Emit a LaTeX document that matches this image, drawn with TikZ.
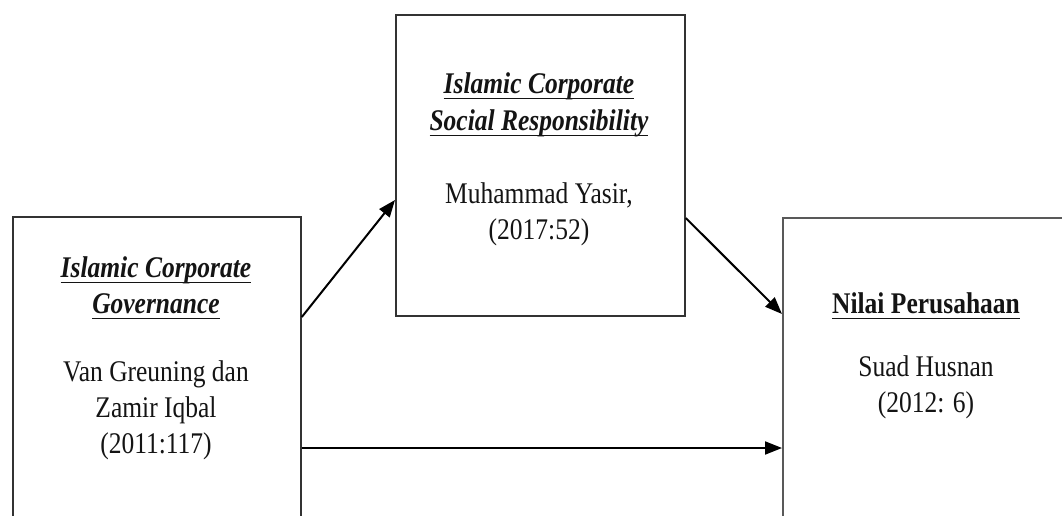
\documentclass[tikz,border=0pt]{standalone}
\usepackage{fontspec}
\setmainfont{Liberation Serif}[FakeStretch=0.85]
\usetikzlibrary{arrows.meta}
\newcommand\myul[1]{\leavevmode\vtop{\hbox{\raisebox{0pt}[\height][0pt]{#1}}\kern4.5pt\hrule height 1.8pt}}
\begin{document}
\begin{tikzpicture}[x=1pt,y=-1pt,
  box/.style={draw=black!80,line width=1.8pt,rectangle,inner sep=0pt,anchor=north west},
  txt/.style={inner sep=0pt,text=black!92,font=\fontsize{30}{36}\selectfont,anchor=base},
  arr/.style={line width=2pt,-{Triangle[length=17pt,width=13pt]}}]
\useasboundingbox (0,0) rectangle (1062,515);
\clip (0,0) rectangle (1062,515);
\node[box,minimum width=288pt,minimum height=320pt] (L) at (12,216) {};
\node[box,minimum width=289pt,minimum height=301pt] (M) at (395,14) {};
\node[box,draw=black!65,minimum width=300pt,minimum height=320pt] (R) at (782,217) {};
% left texts
\node[txt] (l1) at (156,277) {\myul{\textbf{\textit{Islamic Corporate}}}};
\node[txt] (l2) at (156,313) {\myul{\textbf{\textit{Governance}}}};
\node[txt] (l3) at (156,381) {Van Greuning dan};
\node[txt] (l4) at (156,417) {Zamir Iqbal};
\node[txt] (l5) at (156,453) {(2011:117)};
% middle texts
\node[txt] (m1) at (539,93) {\myul{\textbf{\textit{Islamic Corporate}}}};
\node[txt] (m2) at (539,130) {\myul{\textbf{\textit{Social Responsibility}}}};
\node[txt] (m3) at (539,203) {Muhammad Yasir,};
\node[txt] (m4) at (539,239) {(2017:52)};
% right texts
\node[txt] (r1) at (926,313) {\myul{\textbf{Nilai Perusahaan}}};
\node[txt] (r2) at (926,376) {Suad Husnan};
\node[txt] (r3) at (926,412) {(2012: 6)};
% arrows
\draw[arr] ([yshift=-101pt]L.north east) -- ([yshift=-186pt]M.north west);
\draw[arr] ([yshift=-204pt]M.north east) -- ([yshift=-97pt]R.north west);
\draw[arr] ([yshift=-232pt]L.north east) -- ([yshift=-231pt]R.north west);
\end{tikzpicture}
\end{document}
